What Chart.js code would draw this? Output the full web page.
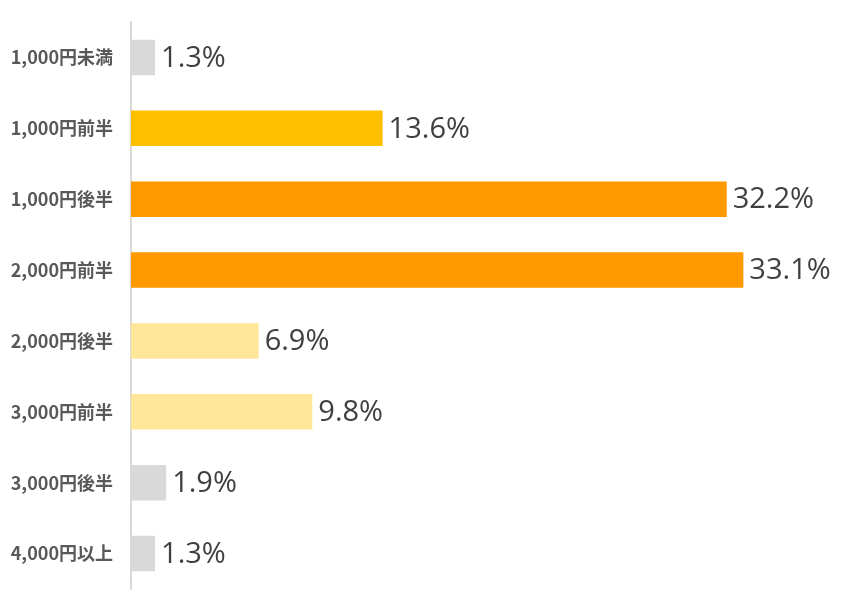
<!DOCTYPE html>
<html>
<head>
<meta charset="utf-8">
<script src="https://cdn.jsdelivr.net/npm/chart.js@4"></script>
<style>
    html, body { margin: 0; padding: 0; background: #fff; }
    #wrap { width: 845px; height: 612px; }
</style>
</head>
<body>
<div id="wrap"><canvas id="price-chart"></canvas></div>
<script>
const categories = ['1,000円未満', '1,000円前半', '1,000円後半', '2,000円前半', '2,000円後半', '3,000円前半', '3,000円後半', '4,000円以上'];
const shares = [1.3, 13.6, 32.2, 33.1, 6.9, 9.8, 1.9, 1.3];
const barColors = ['#D9D9D9', '#FFC000', '#FF9900', '#FF9900', '#FFE699', '#FFE699', '#D9D9D9', '#D9D9D9'];

// value labels at the end of each bar
const valueLabels = {
    id: 'valueLabels',
    afterDatasetsDraw(chart) {
        const ctx = chart.ctx;
        const meta = chart.getDatasetMeta(0);
        ctx.save();
        ctx.font = '29px "Open Sans", sans-serif';
        ctx.fillStyle = '#404040';
        ctx.textAlign = 'left';
        ctx.textBaseline = 'middle';
        meta.data.forEach((bar, i) => {
            ctx.fillText(shares[i].toFixed(1) + '%', bar.x + 6, bar.y + 1);
        });
        ctx.restore();
    }
};

const ctx = document.getElementById('price-chart').getContext('2d');
new Chart(ctx, {
    type: 'bar',
    data: {
        labels: categories,
        datasets: [{
            data: shares,
            backgroundColor: barColors,
            borderWidth: 0,
            categoryPercentage: 1,
            barPercentage: 0.5,
        }]
    },
    options: {
        indexAxis: 'y',
        responsive: true,
        maintainAspectRatio: false,
        animation: false,
        layout: { padding: { top: 22, bottom: 23, right: 11, left: 0 } },
        plugins: {
            legend: { display: false },
            tooltip: { enabled: false },
        },
        scales: {
            x: {
                display: false,
                min: 0,
                max: 38,
            },
            y: {
                grid: { display: false, drawTicks: false },
                border: { color: '#D9D9D9', width: 2 },
                ticks: {
                    color: '#595959',
                    padding: 18,
                    font: { family: '"Noto Sans CJK JP"', size: 18, weight: 'bold' },
                },
                afterFit(axis) {
                    axis.width = 131;
                    axis.paddingTop = 0;
                    axis.paddingBottom = 0;
                },
            }
        }
    },
    plugins: [valueLabels],
});
</script>
</body>
</html>
